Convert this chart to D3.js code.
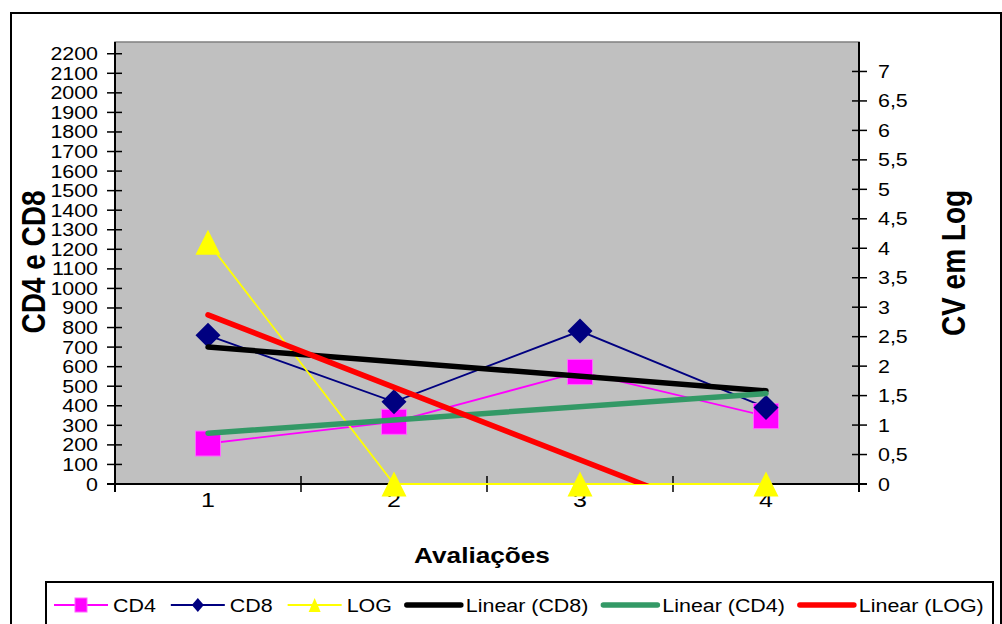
<!DOCTYPE html>
<html><head><meta charset="utf-8">
<script src="https://cdn.jsdelivr.net/npm/d3@7"></script>
<style>html,body{margin:0;padding:0;background:#fff;overflow:hidden}svg{display:block}</style>
</head><body>
<svg id="c" width="1002" height="624"></svg>
<script>
// ---- data ----
const categories = [1, 2, 3, 4];
const cd4 = [207, 318, 573, 347];
const cd8 = [760, 420, 782, 391];
const logv = [4.1, 0, 0, 0];
const leftTicks = d3.range(0, 2201, 100);
const rightTicks = d3.range(0, 7.01, 0.5);
const legendLabels = ["CD4", "CD8", "LOG", "Linear (CD8)", "Linear (CD4)", "Linear (LOG)"];

// ---- layout ----
const SX = 1.19; // horizontal stretch of the original rendering
const FONT = "'Liberation Sans', Arial, sans-serif";
const P = {l: 115, r: 859, t: 42, b: 484};
const svg = d3.select("#c");

function stext(parent, x, y, txt, o = {}) {
  const g = parent.append("g").attr("transform", `translate(${x},${y}) scale(${SX},1)` + (o.rot ? ` rotate(${o.rot})` : ""));
  return g.append("text").text(txt)
    .attr("font-family", FONT).attr("font-size", o.size || 18)
    .attr("font-weight", o.bold ? "bold" : "normal")
    .attr("text-anchor", o.anchor || "start")
    .attr("fill", "#000");
}

// outer border
svg.append("rect").attr("x", 11).attr("y", 13).attr("width", 990).attr("height", 640)
  .attr("fill", "#fff").attr("stroke", "#000").attr("stroke-width", 2);

// scales
const xb = d3.scaleBand().domain(categories).range([P.l, P.r]);
const xc = c => xb(c) + xb.bandwidth() / 2;
const xl = d3.scaleLinear().domain([0.5, 4.5]).range([P.l, P.r]);
const yL = d3.scaleLinear().domain([0, 2260]).range([P.b, P.t]);
const yR = d3.scaleLinear().domain([0, 7.5]).range([P.b, P.t]);

// plot area
svg.append("rect").attr("x", P.l).attr("y", P.t).attr("width", P.r - P.l).attr("height", P.b - P.t)
  .attr("fill", "#c0c0c0").attr("stroke", "#808080").attr("stroke-width", 1.5);

// left axis
const gl = svg.append("g");
gl.append("line").attr("x1", P.l).attr("x2", P.l).attr("y1", P.t).attr("y2", P.b + 8).attr("stroke", "#000").attr("stroke-width", 2);
leftTicks.forEach(v => {
  gl.append("line").attr("x1", P.l - 8).attr("x2", P.l + 7).attr("y1", yL(v)).attr("y2", yL(v)).attr("stroke", "#000").attr("stroke-width", 1.5);
  stext(gl, 98, yL(v) + 6.5, String(v), {anchor: "end"});
});
// right axis
const gr = svg.append("g");
gr.append("line").attr("x1", P.r).attr("x2", P.r).attr("y1", P.t).attr("y2", P.b + 8).attr("stroke", "#000").attr("stroke-width", 2);
rightTicks.forEach(v => {
  gr.append("line").attr("x1", P.r - 7).attr("x2", P.r + 8).attr("y1", yR(v)).attr("y2", yR(v)).attr("stroke", "#000").attr("stroke-width", 1.5);
  stext(gr, 878, yR(v) + 6.5, String(v).replace(".", ","));
});
// bottom axis
const gb = svg.append("g");
gb.append("line").attr("x1", P.l - 8).attr("x2", P.r + 8).attr("y1", P.b).attr("y2", P.b).attr("stroke", "#000").attr("stroke-width", 2);
const bounds = [P.l].concat(categories.map(c => xb(c) + xb.bandwidth()));
bounds.forEach(x => gb.append("line").attr("x1", x).attr("x2", x).attr("y1", P.b - 8).attr("y2", P.b + 8).attr("stroke", "#000").attr("stroke-width", 1.5));
categories.forEach(c => stext(gb, xc(c), 507, String(c), {anchor: "middle", size: 21}));

// titles
stext(svg, 482, 563, "Avaliações", {bold: true, size: 22, anchor: "middle"});
stext(svg, 45, 262, "CD4 e CD8", {bold: true, size: 28, anchor: "middle", rot: -90});
stext(svg, 965, 263, "CV em Log", {bold: true, size: 28, anchor: "middle", rot: -90});

// series
const seriesDefs = [
  {vals: cd4, y: yL, color: "#ff00ff", marker: "square"},
  {vals: cd8, y: yL, color: "#000080", marker: "diamond"},
  {vals: logv, y: yR, color: "#ffff00", marker: "triangle"}
];
const line = (y) => d3.line().x((d, i) => xc(categories[i])).y(d => y(d));
seriesDefs.forEach(s => {
  svg.append("path").attr("d", line(s.y)(s.vals)).attr("fill", "none").attr("stroke", s.color).attr("stroke-width", 1.8);
});
function marker(parent, type, x, y, color, w, h) {
  if (type === "square") {
    parent.append("rect").attr("x", x - w / 2).attr("y", y - h / 2).attr("width", w).attr("height", h)
      .attr("fill", color).attr("stroke", "#ff66ff").attr("stroke-width", 1);
  } else if (type === "diamond") {
    parent.append("path").attr("d", `M${x},${y - h / 2}L${x + w / 2},${y}L${x},${y + h / 2}L${x - w / 2},${y}Z`).attr("fill", color);
  } else {
    parent.append("path").attr("d", `M${x},${y - h / 2}L${x + w / 2},${y + h / 2}L${x - w / 2},${y + h / 2}Z`).attr("fill", color);
  }
}
seriesDefs.forEach(s => s.vals.forEach((v, i) => marker(svg, s.marker, xc(categories[i]), s.y(v), s.color, 25, 25)));

// linear trendlines (least squares on the series)
function fit(vals) {
  const xs = categories, mx = d3.mean(xs), my = d3.mean(vals);
  const b = d3.sum(xs, (x, i) => (x - mx) * (vals[i] - my)) / d3.sum(xs, x => (x - mx) ** 2);
  return x => my + b * (x - mx);
}
svg.append("clipPath").attr("id", "pc").append("rect").attr("x", P.l).attr("y", P.t).attr("width", P.r - P.l).attr("height", P.b - P.t);
const trends = [
  {vals: cd8, y: yL, color: "#000000"},
  {vals: cd4, y: yL, color: "#339966"},
  {vals: logv, y: yR, color: "#ff0000"}
];
const x0 = categories[0], x1 = categories[categories.length - 1];
trends.forEach(t => {
  const f = fit(t.vals);
  svg.append("line").attr("clip-path", "url(#pc)")
    .attr("x1", xl(x0)).attr("y1", t.y(f(x0))).attr("x2", xl(x1)).attr("y2", t.y(f(x1)))
    .attr("stroke", t.color).attr("stroke-width", 5.5).attr("stroke-linecap", "round");
});

// legend
const lg = svg.append("g");
lg.append("rect").attr("x", 46).attr("y", 582).attr("width", 947).attr("height", 80)
  .attr("fill", "#fff").attr("stroke", "#000").attr("stroke-width", 2);
const ly = 605;
const legendItems = [
  {color: "#ff00ff", marker: "square", w: 1.8},
  {color: "#000080", marker: "diamond", w: 1.8},
  {color: "#ffff00", marker: "triangle", w: 1.8},
  {color: "#000000", w: 5.5},
  {color: "#339966", w: 5.5},
  {color: "#ff0000", w: 5.5}
];
let lx = 54;
legendItems.forEach((it, i) => {
  const sw = 54;
  lg.append("line").attr("x1", lx).attr("x2", lx + sw).attr("y1", ly).attr("y2", ly)
    .attr("stroke", it.color).attr("stroke-width", it.w).attr("stroke-linecap", it.marker ? "butt" : "round");
  if (it.marker) marker(lg, it.marker, lx + sw / 2, ly, it.color, 12, 14);
  const t = stext(lg, lx + sw + 5, ly + 7, legendLabels[i]);
  const tw = t.node().getComputedTextLength() * SX;
  lx = lx + sw + 5 + tw + 15;
});
</script>
</body></html>
